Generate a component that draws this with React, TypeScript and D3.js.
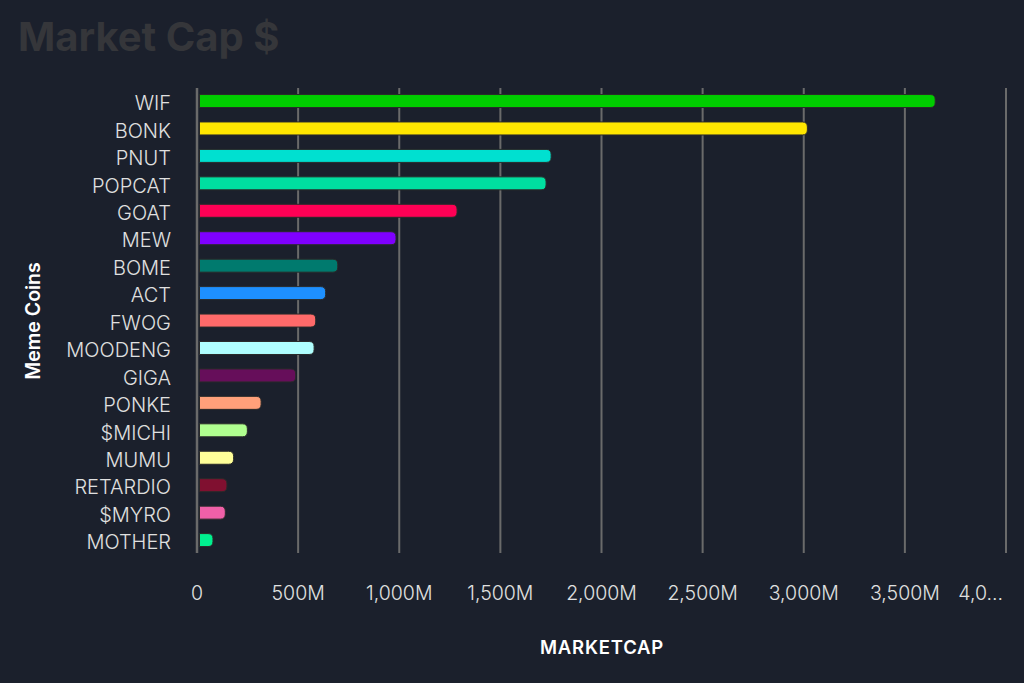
import React from "react";
import * as d3 from "d3";

const coins = ["WIF", "BONK", "PNUT", "POPCAT", "GOAT", "MEW", "BOME", "ACT", "FWOG", "MOODENG", "GIGA", "PONKE", "$MICHI", "MUMU", "RETARDIO", "$MYRO", "MOTHER"];
const marketCap = [3650, 3018, 1751, 1726, 1286, 984, 696, 636, 587, 579, 488, 317, 249, 181, 148, 140, 79]; // millions
const barColors = ["#00cc00", "#ffe600", "#00e0d0", "#00dfa0", "#ff0055", "#7f00ff", "#007a6e", "#1e90ff", "#ff6a6a", "#b0ffff", "#660e5a", "#ffa07a", "#b0ff90", "#ffff99", "#801030", "#f060a8", "#00f090"];
const xTicks = [0, 500, 1000, 1500, 2000, 2500, 3000, 3500, 4000];

const W = 1024;
const H = 683;
const bg = "#1b202c";
const font = "Inter, 'Noto Sans', sans-serif";

const barPath = (x0: number, x1: number, y: number, h: number, r: number) => {
  const rr = Math.min(r, (x1 - x0) / 2, h / 2);
  return `M${x0},${y}H${x1 - rr}Q${x1},${y} ${x1},${y + rr}V${y + h - rr}Q${x1},${y + h} ${x1 - rr},${y + h}H${x0}Z`;
};

const tickLabel = (v: number) => (v === 0 ? "0" : v === 4000 ? "4,0…" : d3.format(",")(v) + "M");

export default function App() {
  const x = d3.scaleLinear().domain([0, 4000]).range([197, 1006]);
  const y = d3.scalePoint<string>().domain(coins).range([87.3, 553.8]).padding(0.5);
  const barH = 13;

  return (
    <svg width={W} height={H} style={{ position: "absolute", left: 0, top: 0, background: bg }}>
      <rect width={W} height={H} fill={bg} />
      <text x={18} y={51} fill="#35363a" fontFamily={font} fontSize={40} fontWeight={700}>
        Market Cap $
      </text>

      {xTicks.map((t) => (
        <line key={t} x1={x(t)} x2={x(t)} y1={88} y2={553} stroke="#6a6a6a" strokeWidth={t === 0 ? 2.5 : 2} />
      ))}

      {coins.map((c, i) => {
        const cy = y(c) as number;
        return (
          <g key={c}>
            <path
              d={barPath(x(0) + 2.5, x(marketCap[i]), cy - barH / 2, barH, 5)}
              fill={barColors[i]}
              stroke="#2a2a2a"
              strokeWidth={1}
            />
            <text x={171} y={cy + 2} dy="0.36em" textAnchor="end" fill="#e0e0e0" fontFamily={font} fontSize={20} fontWeight={300}>
              {c}
            </text>
          </g>
        );
      })}

      {xTicks.map((t) => (
        <text
          key={t}
          x={t === 4000 ? 1003 : x(t)}
          y={599.5}
          textAnchor={t === 4000 ? "end" : "middle"}
          fill="#e0e0e0"
          fontFamily={font}
          fontSize={19.5}
          fontWeight={300}
        >
          {tickLabel(t)}
        </text>
      ))}

      <text x={602} y={653.5} textAnchor="middle" fill="#ffffff" fontFamily={font} fontSize={18.5} fontWeight={600} letterSpacing={0.8}>
        MARKETCAP
      </text>
      <text
        transform="translate(40,321) rotate(-90)"
        textAnchor="middle"
        fill="#ffffff"
        fontFamily={font}
        fontSize={19.5}
        fontWeight={600}
      >
        Meme Coins
      </text>
    </svg>
  );
}
